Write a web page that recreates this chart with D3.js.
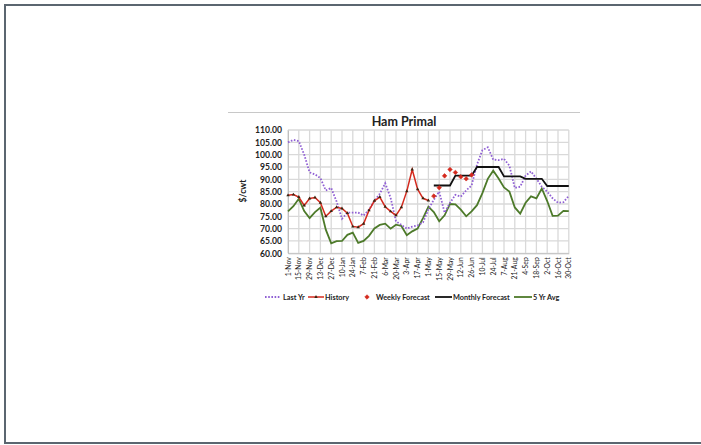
<!DOCTYPE html>
<html>
<head>
<meta charset="utf-8">
<script src="https://cdn.jsdelivr.net/npm/d3@7"></script>
<style>
  body { margin: 0; background: #fff; }
  svg { display: block; font-family: Lato, "Open Sans", sans-serif; }
</style>
</head>
<body>
<svg id="s" width="701" height="445"></svg>
<script>
const weeks = ['1-Nov', '8-Nov', '15-Nov', '22-Nov', '29-Nov', '6-Dec', '13-Dec', '20-Dec', '27-Dec',
  '3-Jan', '10-Jan', '17-Jan', '24-Jan', '31-Jan', '7-Feb', '14-Feb', '21-Feb', '28-Feb',
  '6-Mar', '13-Mar', '20-Mar', '27-Mar', '3-Apr', '10-Apr', '17-Apr', '24-Apr',
  '1-May', '8-May', '15-May', '22-May', '29-May', '5-Jun', '12-Jun', '19-Jun', '26-Jun',
  '3-Jul', '10-Jul', '17-Jul', '24-Jul', '31-Jul', '7-Aug', '14-Aug', '21-Aug', '28-Aug',
  '4-Sep', '11-Sep', '18-Sep', '25-Sep', '2-Oct', '9-Oct', '16-Oct', '23-Oct', '30-Oct'];
const tickLabels = ['1-Nov', '15-Nov', '29-Nov', '13-Dec', '27-Dec', '10-Jan', '24-Jan', '7-Feb', '21-Feb',
  '6-Mar', '20-Mar', '3-Apr', '17-Apr', '1-May', '15-May', '29-May', '12-Jun', '26-Jun',
  '10-Jul', '24-Jul', '7-Aug', '21-Aug', '4-Sep', '18-Sep', '2-Oct', '16-Oct', '30-Oct'];
const yTicks = [60, 65, 70, 75, 80, 85, 90, 95, 100, 105, 110];

const lastYr = [105, 106, 105.5, 100, 92.8, 92, 90.5, 85.5, 86.5, 81, 74, 76.5, 76.5, 76.5, 75.3, 77.7,
  81.3, 84.1, 88.4, 82.5, 73, 71.5, 70, 70.8, 71.3, 72.5, 77.8, 81.7, 85, 76.5, 80.5, 83.7, 83, 85.5,
  87.5, 96, 101.8, 103, 98, 97.8, 98.3, 95.5, 86.5, 87, 91.5, 93.2, 90.3, 87, 85, 82.3, 80.5, 80.7, 83.3];
const history = [83.5, 83.8, 82.8, 79.4, 82.2, 82.6, 80.5, 75, 77.1, 78.7, 78.2, 76.3, 70.9, 70.6, 72,
  77.4, 81.3, 82.8, 78.9, 77, 75.4, 78.7, 85.2, 94, 86, 82.3, 81.4];
const weekly = [null, null, null, null, null, null, null, null, null, null, null, null, null, null, null,
  null, null, null, null, null, null, null, null, null, null, null, null,
  83.2, 86.6, 91.4, 94, 92.8, 91, 90.2, 91.8];
const monthly = [null, null, null, null, null, null, null, null, null, null, null, null, null, null, null,
  null, null, null, null, null, null, null, null, null, null, null, null,
  87.5, 87.5, 87.5, 87.5, 91.5, 91.5, 91.5, 91.5, 95, 95, 95, 95, 95, 91.2, 91.2, 91.2, 91.2,
  90.2, 90.2, 90.2, 90.2, 87.3, 87.3, 87.3, 87.3, 87.3];
const avg5 = [77, 79.1, 82.1, 77.1, 74.3, 76.7, 78.5, 69.6, 64, 64.9, 65, 67.5, 68.4, 64.2, 65, 67.1,
  70.1, 71.5, 72, 70, 71.6, 71.1, 67.3, 68.9, 70, 74.3, 78.9, 76.7, 73, 75.4, 80, 79.8, 77.7, 75,
  77, 79.5, 84.4, 90.2, 93.5, 90.3, 86.7, 85, 78.6, 76.1, 80.5, 83.1, 82.3, 86.3, 81.2, 75.2, 75.3, 77.2, 77.1];

const svg = d3.select('#s');
const purple = '#9060d4', red = '#d42a1e', green = '#4d7a2a', black = '#111';

// frame
svg.append('path')
  .attr('d', 'M705,5 H5 V443 H705')
  .attr('fill', 'none').attr('stroke', '#5b6670').attr('stroke-width', 2);
svg.append('line')
  .attr('x1', 228).attr('x2', 580).attr('y1', 112.5).attr('y2', 112.5)
  .attr('stroke', '#c8c8c8').attr('stroke-width', 1);

const x = d3.scalePoint().domain(weeks).range([288, 568.8]);
const y = d3.scaleLinear().domain([60, 110]).range([253.3, 130]);

// grid
svg.append('g').selectAll('line').data(yTicks).join('line')
  .attr('x1', 288).attr('x2', 568.8)
  .attr('y1', d => y(d)).attr('y2', d => y(d))
  .attr('stroke', '#d9d9d9').attr('stroke-width', 1.3);
svg.append('g').selectAll('line').data(tickLabels).join('line')
  .attr('x1', d => x(d)).attr('x2', d => x(d))
  .attr('y1', y(60)).attr('y2', y(110))
  .attr('stroke', '#d9d9d9').attr('stroke-width', 1.3);

// axes
const yAxis = svg.append('g')
  .attr('transform', 'translate(288,0)')
  .call(d3.axisLeft(y).tickValues(yTicks).tickFormat(d3.format('.2f')).tickSize(0).tickPadding(6));
yAxis.select('.domain').attr('stroke', '#bfbfbf');
yAxis.selectAll('text')
  .attr('font-family', 'Lato').attr('font-weight', 'bold').attr('font-size', 8.6).attr('fill', '#222');

const xAxis = svg.append('g')
  .attr('transform', `translate(0,${y(60)})`)
  .call(d3.axisBottom(x).tickValues(tickLabels).tickSize(0));
xAxis.select('.domain').attr('stroke', '#bfbfbf');
xAxis.selectAll('text')
  .attr('transform', 'rotate(-90)')
  .attr('text-anchor', 'end')
  .attr('x', -4).attr('y', 0).attr('dy', '0.32em')
  .attr('font-family', 'Lato').attr('font-size', 6.8).attr('fill', '#222');

// title and axis title
svg.append('text')
  .attr('x', 404).attr('y', 126).attr('text-anchor', 'middle')
  .attr('font-family', 'Lato').attr('font-weight', 'bold').attr('font-size', 12.5).attr('fill', '#222')
  .text('Ham Primal');
svg.append('text')
  .attr('transform', 'translate(246,191) rotate(-90)')
  .attr('text-anchor', 'middle')
  .attr('font-family', 'Lato').attr('font-weight', 'bold').attr('font-size', 8.6).attr('fill', '#222')
  .text('$/cwt');

// series
const line = d3.line()
  .defined(d => d != null)
  .x((d, i) => x(weeks[i]))
  .y(d => y(d));

svg.append('path').datum(avg5).attr('d', line)
  .attr('fill', 'none').attr('stroke', green).attr('stroke-width', 1.8);
svg.append('path').datum(lastYr).attr('d', line)
  .attr('fill', 'none').attr('stroke', purple).attr('stroke-width', 1.8)
  .attr('stroke-dasharray', '1.6,1.6');
svg.append('path').datum(monthly).attr('d', line)
  .attr('fill', 'none').attr('stroke', black).attr('stroke-width', 1.8);
svg.append('path').datum(history).attr('d', line)
  .attr('fill', 'none').attr('stroke', red).attr('stroke-width', 1.5);

const tri = d3.symbol().type(d3.symbolTriangle).size(5);
svg.append('g').selectAll('path').data(history).join('path')
  .attr('d', tri)
  .attr('transform', (d, i) => `translate(${x(weeks[i])},${y(d)})`)
  .attr('fill', '#3a2410');

const diamond = d3.symbol().type(d3.symbolDiamond2).size(13);
svg.append('g').selectAll('path')
  .data(weekly.map((v, i) => [i, v]).filter(d => d[1] != null))
  .join('path')
  .attr('d', diamond)
  .attr('transform', d => `translate(${x(weeks[d[0]])},${y(d[1])})`)
  .attr('fill', red).attr('stroke', red).attr('stroke-width', 0.6);

// legend
const legend = svg.append('g').attr('font-family', 'Lato').attr('font-size', 7.3)
  .attr('font-weight', 'bold').attr('fill', '#222');
const ly = 297;
legend.append('line').attr('x1', 265).attr('x2', 281).attr('y1', ly).attr('y2', ly)
  .attr('stroke', purple).attr('stroke-width', 1.8).attr('stroke-dasharray', '1.6,1.6');
legend.append('text').attr('x', 283).attr('y', ly).attr('dy', '0.35em').text('Last Yr');
legend.append('line').attr('x1', 308).attr('x2', 324).attr('y1', ly).attr('y2', ly)
  .attr('stroke', red).attr('stroke-width', 1.5);
legend.append('path').attr('d', tri).attr('transform', `translate(316,${ly})`).attr('fill', '#3a2410');
legend.append('text').attr('x', 325).attr('y', ly).attr('dy', '0.35em').text('History');
legend.append('path').attr('d', diamond).attr('transform', `translate(367,${ly})`)
  .attr('fill', red).attr('stroke', red).attr('stroke-width', 0.6);
legend.append('text').attr('x', 376).attr('y', ly).attr('dy', '0.35em').text('Weekly Forecast');
legend.append('line').attr('x1', 435).attr('x2', 452).attr('y1', ly).attr('y2', ly)
  .attr('stroke', black).attr('stroke-width', 1.8);
legend.append('text').attr('x', 453).attr('y', ly).attr('dy', '0.35em').text('Monthly Forecast');
legend.append('line').attr('x1', 514).attr('x2', 532).attr('y1', ly).attr('y2', ly)
  .attr('stroke', green).attr('stroke-width', 1.8);
legend.append('text').attr('x', 533).attr('y', ly).attr('dy', '0.35em').text('5 Yr Avg');
</script>
</body>
</html>
